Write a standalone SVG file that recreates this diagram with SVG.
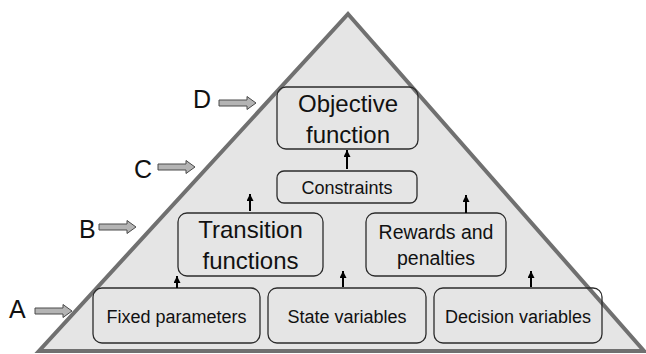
<svg xmlns="http://www.w3.org/2000/svg" width="646" height="354" viewBox="0 0 646 354">
  <style>
    .box { fill: none; stroke: #2b2b2b; stroke-width: 1.3; }
    .lbl { font-family: "Liberation Sans", Arial, sans-serif; fill: #111; text-anchor: middle; }
    .big { font-size: 24px; }
    .mid { font-size: 19.5px; }
    .sm { font-size: 18px; }
    .lvl { font-family: "Liberation Sans", Arial, sans-serif; font-size: 25px; fill: #111; }
    .up { stroke: #000; stroke-width: 2; fill: none; marker-end: url(#head); }
    .block { fill: #b4b4b4; stroke: #4a4a4a; stroke-width: 1; stroke-linejoin: miter; }
  </style>
  <defs>
    <marker id="head" markerUnits="userSpaceOnUse" markerWidth="7" markerHeight="8" refX="7" refY="3.5" orient="auto">
      <path d="M0,0 L7,3.5 L0,7 z" fill="#000"/>
    </marker>
    <!-- grey block arrow pointing right, origin at tail centre -->
    <path id="blockArrow" class="block" d="M0,-3 H28 V-6.5 L37,0 L28,6.5 V3 H0 Z"/>
  </defs>

  <rect width="646" height="354" fill="#fff"/>

  <!-- pyramid -->
  <polygon points="348,14 644,351 39,351" fill="#e5e5e5" stroke="#707070" stroke-width="4" stroke-linejoin="miter"/>

  <!-- level markers -->
  <g id="level-D">
    <text class="lvl" x="193" y="108">D</text>
    <use href="#blockArrow" x="219" y="103"/>
  </g>
  <g id="level-C">
    <text class="lvl" x="134" y="178">C</text>
    <use href="#blockArrow" x="158" y="167"/>
  </g>
  <g id="level-B">
    <text class="lvl" x="79" y="238">B</text>
    <use href="#blockArrow" x="99" y="227"/>
  </g>
  <g id="level-A">
    <text class="lvl" x="9" y="318">A</text>
    <use href="#blockArrow" x="35" y="311"/>
  </g>

  <!-- nodes -->
  <g id="objective">
    <rect class="box" x="277" y="87" width="141" height="62" rx="9"/>
    <text class="lbl big" x="348" y="112">Objective</text>
    <text class="lbl big" x="348" y="143">function</text>
  </g>
  <g id="constraints">
    <rect class="box" x="277" y="171" width="140" height="32" rx="7"/>
    <text class="lbl sm" x="347" y="194">Constraints</text>
  </g>
  <g id="transition">
    <rect class="box" x="178" y="213" width="145" height="63" rx="9"/>
    <text class="lbl big" x="250.5" y="238">Transition</text>
    <text class="lbl big" x="250.5" y="269">functions</text>
  </g>
  <g id="rewards">
    <rect class="box" x="366" y="213" width="140" height="63" rx="9"/>
    <text class="lbl mid" x="436" y="239">Rewards and</text>
    <text class="lbl mid" x="436" y="265">penalties</text>
  </g>
  <g id="fixed">
    <rect class="box" x="93" y="288" width="167" height="55" rx="9"/>
    <text class="lbl sm" x="176.5" y="323">Fixed parameters</text>
  </g>
  <g id="state">
    <rect class="box" x="268" y="288" width="158" height="55" rx="9"/>
    <text class="lbl sm" x="347" y="323">State variables</text>
  </g>
  <g id="decision">
    <rect class="box" x="434" y="288" width="168" height="55" rx="9"/>
    <text class="lbl sm" x="518" y="323">Decision variables</text>
  </g>

  <!-- connectors -->
  <g id="connectors">
    <line class="up" x1="177" y1="288" x2="177" y2="276"/>
    <line class="up" x1="343" y1="287" x2="343" y2="271"/>
    <line class="up" x1="531" y1="287" x2="531" y2="271"/>
    <line class="up" x1="250" y1="211" x2="250" y2="194"/>
    <line class="up" x1="466" y1="213" x2="466" y2="195"/>
    <line class="up" x1="347" y1="169" x2="347" y2="150"/>
  </g>
</svg>
